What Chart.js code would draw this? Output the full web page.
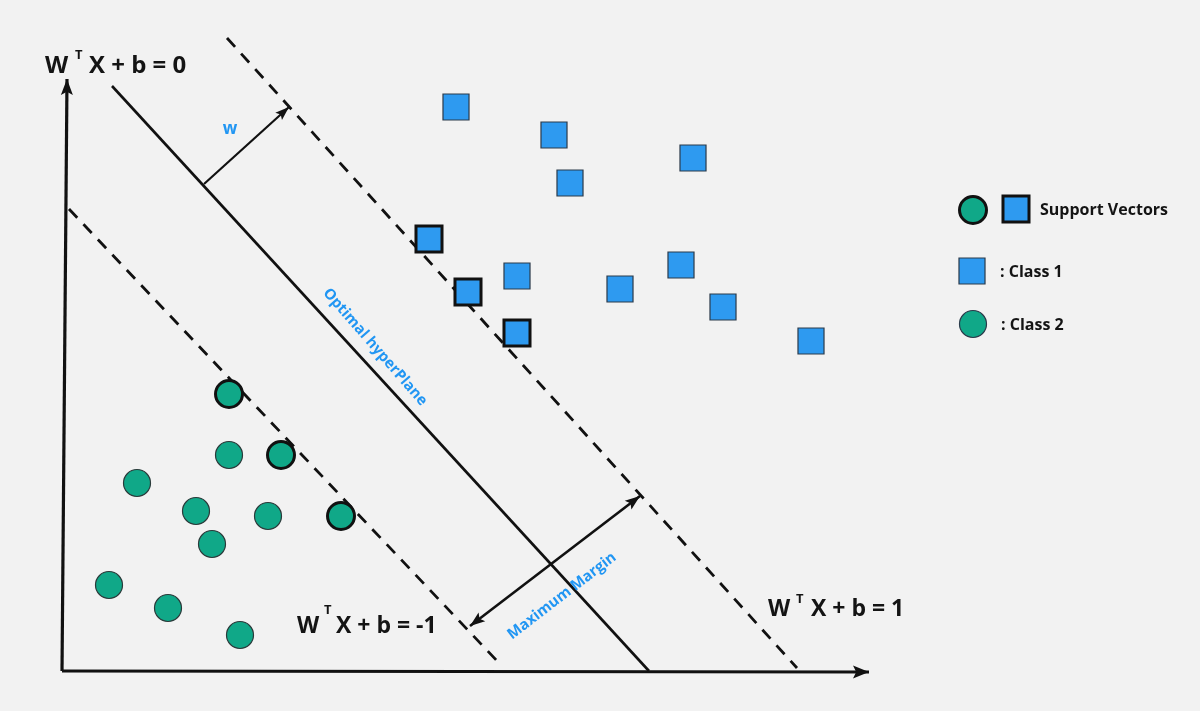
<!DOCTYPE html>
<html>
<head>
<meta charset="utf-8">
<script src="https://cdn.jsdelivr.net/npm/chart.js@4/dist/chart.umd.min.js"></script>
<style>
  html, body { margin: 0; padding: 0; background: #F2F2F2; }
  #wrap { width: 1200px; height: 711px; }
</style>
</head>
<body>
<div id="wrap"><canvas id="c" width="1200" height="711"></canvas></div>
<script>
// ---- Data (diagram units, y measured downward) ----
const class1X = [456, 554, 693, 570, 429, 517, 468, 620, 681, 723, 517, 811];
const class1Y = [107, 135, 158, 183, 239, 276, 292, 289, 265, 307, 333, 341];
const class1Support = [false, false, false, false, true, false, true, false, false, false, true, false];

const class2X = [229, 229, 281, 137, 196, 268, 341, 212, 109, 168, 240];
const class2Y = [394, 455, 455, 483, 511, 516, 516, 544, 585, 608, 635];
const class2Support = [true, false, true, false, false, false, true, false, false, false, false];

const hyperplaneX = [112, 649];
const hyperplaneY = [86, 671];
const marginPlusX = [227, 797];
const marginPlusY = [38, 668];
const marginMinusX = [69, 500];
const marginMinusY = [209, 664];

const wVectorX = [204, 289];
const wVectorY = [184, 107];
const marginArrowX = [470, 640];
const marginArrowY = [626, 496];

const xAxisX = [62, 869];
const xAxisY = [671, 672];
const yAxisX = [62, 67];
const yAxisY = [671, 79];

const legendShapes = ['circle', 'rect', 'rect', 'circle'];
const legendSupport = [true, true, false, false];
const legendX = [973, 1016, 972, 973];
const legendY = [210, 209, 271, 324];
const legendLabels = ['Support Vectors', ': Class 1', ': Class 2'];

const equationLabels = ['W', 'T', 'X + b = 0', 'W', 'T', 'X + b = -1', 'W', 'T', 'X + b = 1'];
const blueLabels = ['w', 'Optimal hyperPlane', 'Maximum Margin'];

// ---- Styles / layout ----
const BLUE = '#2E9AF0';
const TEAL = '#10A888';
const TEXT_BLUE = '#2196F3';
const INK = '#111111';
const FONT = '"Open Sans", "Noto Sans", sans-serif';

const eqLayout = [
  {x: 45, y: 73, size: 24}, {x: 75, y: 59, size: 13}, {x: 89, y: 73, size: 24},
  {x: 297, y: 633, size: 23}, {x: 324, y: 614, size: 13}, {x: 336, y: 633, size: 23},
  {x: 768, y: 616, size: 23}, {x: 796, y: 603, size: 13}, {x: 811, y: 616, size: 23}
];
const blueLayout = [
  {x: 230, y: 129, size: 17, rot: 0},
  {x: 375, y: 347, size: 15, rot: 49},
  {x: 562, y: 596, size: 15, rot: -37.5}
];
const legendTextLayout = [
  {x: 1040, y: 215}, {x: 1000, y: 277}, {x: 1001, y: 330}
];

const pts = (xs, ys) => xs.map((x, i) => ({x: x, y: ys[i]}));

function lineDs(xs, ys, width, dash, extra) {
  return Object.assign({
    type: 'scatter',
    data: pts(xs, ys),
    showLine: true,
    borderColor: INK,
    borderWidth: width,
    borderDash: dash || [],
    pointRadius: 0,
    fill: false,
    clip: false
  }, extra || {});
}

const datasets = [
  {
    data: pts(class1X, class1Y),
    pointStyle: 'rect',
    pointRadius: 18.4,
    backgroundColor: BLUE,
    borderColor: ctx => class1Support[ctx.dataIndex] ? '#111' : '#2b3a4a',
    borderWidth: ctx => class1Support[ctx.dataIndex] ? 3 : 1.2,
    clip: false
  },
  {
    data: pts(class2X, class2Y),
    pointStyle: 'circle',
    pointRadius: 13.5,
    backgroundColor: TEAL,
    borderColor: ctx => class2Support[ctx.dataIndex] ? '#111' : '#2b3a3a',
    borderWidth: ctx => class2Support[ctx.dataIndex] ? 3 : 1.2,
    clip: false
  },
  {
    data: pts(legendX, legendY),
    pointStyle: ctx => legendShapes[ctx.dataIndex],
    pointRadius: ctx => legendShapes[ctx.dataIndex] === 'rect' ? 18.4 : 13.5,
    backgroundColor: ctx => legendShapes[ctx.dataIndex] === 'rect' ? BLUE : TEAL,
    borderColor: ctx => legendSupport[ctx.dataIndex] ? '#111' : '#2b3a4a',
    borderWidth: ctx => legendSupport[ctx.dataIndex] ? 3 : 1.2,
    clip: false
  },
  lineDs(hyperplaneX, hyperplaneY, 2.6),
  lineDs(marginPlusX, marginPlusY, 2.8, [12, 9]),
  lineDs(marginMinusX, marginMinusY, 2.8, [12, 9]),
  lineDs(wVectorX, wVectorY, 2.2, null, {arrowEnd: true, head: [14, 10]}),
  lineDs(marginArrowX, marginArrowY, 2.6, null, {arrowEnd: true, arrowStart: true, head: [15, 11]}),
  lineDs(xAxisX, xAxisY, 3.2, null, {arrowEnd: true, head: [16, 13]}),
  lineDs(yAxisX, yAxisY, 3.2, null, {arrowEnd: true, head: [16, 12]})
];
datasets.forEach(d => { if (!d.type) d.type = 'scatter'; });

const arrowPlugin = {
  id: 'arrows',
  afterDatasetsDraw(chart) {
    const ctx = chart.ctx;
    const xs = chart.scales.x, ys = chart.scales.y;
    chart.data.datasets.forEach(ds => {
      if (!ds.arrowEnd && !ds.arrowStart) return;
      const p = ds.data.map(d => [xs.getPixelForValue(d.x), ys.getPixelForValue(d.y)]);
      const draw = (tip, from) => {
        const ang = Math.atan2(tip[1] - from[1], tip[0] - from[0]);
        const L = ds.head[0], W = ds.head[1] / 2;
        ctx.save();
        ctx.translate(tip[0], tip[1]);
        ctx.rotate(ang);
        ctx.beginPath();
        ctx.moveTo(0, 0);
        ctx.lineTo(-L, -W);
        ctx.lineTo(-L * 0.8, 0);
        ctx.lineTo(-L, W);
        ctx.closePath();
        ctx.fillStyle = INK;
        ctx.fill();
        ctx.restore();
      };
      if (ds.arrowEnd) draw(p[p.length - 1], p[p.length - 2]);
      if (ds.arrowStart) draw(p[0], p[1]);
    });
  }
};

const textPlugin = {
  id: 'texts',
  afterDatasetsDraw(chart) {
    const ctx = chart.ctx;
    const xs = chart.scales.x, ys = chart.scales.y;
    ctx.save();
    ctx.fillStyle = '#141414';
    ctx.textAlign = 'left';
    ctx.textBaseline = 'alphabetic';
    equationLabels.forEach((t, i) => {
      const l = eqLayout[i];
      ctx.font = `700 ${l.size}px ${FONT}`;
      ctx.fillText(t, xs.getPixelForValue(l.x), ys.getPixelForValue(l.y));
    });
    ctx.font = `700 16px ${FONT}`;
    legendLabels.forEach((t, i) => {
      const l = legendTextLayout[i];
      ctx.fillText(t, xs.getPixelForValue(l.x), ys.getPixelForValue(l.y));
    });
    ctx.fillStyle = TEXT_BLUE;
    ctx.textAlign = 'center';
    ctx.textBaseline = 'middle';
    blueLabels.forEach((t, i) => {
      const l = blueLayout[i];
      ctx.save();
      ctx.translate(xs.getPixelForValue(l.x), ys.getPixelForValue(l.y));
      ctx.rotate(l.rot * Math.PI / 180);
      ctx.font = `700 ${l.size}px ${FONT}`;
      ctx.fillText(t, 0, 0);
      ctx.restore();
    });
    ctx.restore();
  }
};

new Chart(document.getElementById('c'), {
  type: 'scatter',
  data: {datasets: datasets},
  options: {
    responsive: false,
    animation: false,
    devicePixelRatio: 1,
    events: [],
    layout: {padding: 0, autoPadding: false},
    plugins: {legend: {display: false}, tooltip: {enabled: false}, title: {display: false}},
    scales: {
      x: {type: 'linear', min: 0, max: 1200, display: false},
      y: {type: 'linear', min: 0, max: 711, reverse: true, display: false}
    }
  },
  plugins: [arrowPlugin, textPlugin]
});
</script>
</body>
</html>
